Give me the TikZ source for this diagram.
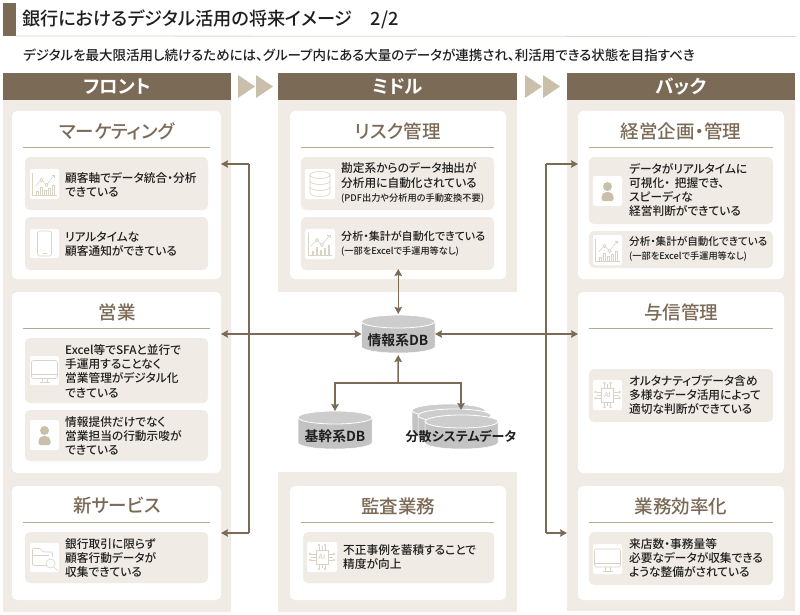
\documentclass[tikz,border=0pt]{standalone}
\usepackage{fontspec}
\setmainfont[RawFeature=+palt,BoldFont={Noto Sans CJK JP Bold}]{Noto Sans CJK JP Medium}
\usepackage{tikz}
\usetikzlibrary{arrows.meta,fit}
\definecolor{brownbar}{HTML}{7B6A56}
\definecolor{panelbg}{HTML}{F0ECE5}
\definecolor{tribeige}{HTML}{C9BFAB}
\definecolor{rulebeige}{HTML}{B5A995}
\definecolor{iconline}{HTML}{DAD3C5}
\definecolor{dbgray}{HTML}{C3C3C3}
\definecolor{dbtop}{HTML}{CDCDCD}
\definecolor{inktext}{HTML}{1F1F1F}
\tikzset{
  box/.style={inner sep=0pt,outer sep=0pt,minimum size=0pt},
  panel/.style={box,fill=panelbg},
  card/.style={box,fill=white,rounded corners=5pt},
  inner/.style={box,fill=panelbg,rounded corners=5pt},
  iconbox/.style={box,fill=white,rounded corners=2pt},
  headbar/.style={box,fill=brownbar},
  headtxt/.style={inner sep=0pt,text=white,font=\fontsize{18.5}{20}\selectfont\bfseries},
  cardtitle/.style={inner sep=0pt,text=brownbar,font=\fontsize{18.5}{20}\selectfont},
  cardrule/.style={rulebeige,line width=0.8pt},
  itemtxt/.style={anchor=west,align=left,inner sep=0pt,text=inktext,font=\fontsize{11.7}{14.3}\selectfont},
  dbtxt/.style={inner sep=0pt,text=inktext,font=\fontsize{13.8}{15}\selectfont\bfseries},
  link/.style={brownbar,line width=1.5pt,{Stealth[length=7pt,width=7.5pt,inset=1pt]}-{Stealth[length=7pt,width=7.5pt,inset=1pt]}},
  linkto/.style={brownbar,line width=1.5pt,-{Stealth[length=7pt,width=7.5pt,inset=1pt]}},
  ico/.style={iconline,line width=0.6pt}
}
\newcommand{\smalltxt}[1]{{\fontsize{9.2}{11}\selectfont #1}}
% two triangles between the column heads
\newcommand{\chevrons}[1]{%
  \fill[tribeige] (#1,75) -- (#1+17,86.5) -- (#1,98) -- cycle;
  \fill[tribeige] (#1+18,75) -- (#1+35,86.5) -- (#1+18,98) -- cycle;}
% cylinder, top left corner and size
\newcommand{\cyl}[4]{%
  \fill[dbgray,draw=white,line width=0.5pt] (#1,#2+6.5) -- (#1,#2+#4-6.5) arc (180:0:#3/2 and 6.5) -- (#1+#3,#2+6.5) -- cycle;
  \fill[dbtop,draw=white,line width=0.8pt] (#1+#3/2,#2+6.5) ellipse [x radius=#3/2, y radius=6.5];}
% icons, drawn around the centre of their white square
\newcommand{\iconchart}[1]{\begin{scope}[shift={(#1)},ico]
  \draw (-12,-11) -- (-12,11) -- (12,11);
  \foreach \bx/\bh in {-8/4,-4/8,0/5,4/7,8/10} \draw (\bx,11) -- (\bx,11-\bh) -- (\bx+1.5,11-\bh) -- (\bx+1.5,11);
  \draw (-9,2) -- (-3,-4) -- (2,1) -- (10,-9);
  \draw (7,-9) -- (10,-9) -- (10,-6);
  \foreach \cx/\cy in {-3/-4,2/1} \draw[fill=white] (\cx,\cy) circle (1.6);
  \end{scope}}
\newcommand{\iconphone}[1]{\begin{scope}[shift={(#1)},ico]
  \draw[rounded corners=2pt] (-7,-12.5) rectangle (7,12.5);
  \draw (-2,10) -- (2,10);
  \end{scope}}
\newcommand{\iconuser}[1]{\begin{scope}[shift={(#1)}]
  \fill[tribeige] (0,-4.5) circle (4.5);
  \fill[tribeige,rounded corners=2pt] (-6,10) -- (-6,4) -- (-3,1) -- (3,1) -- (6,4) -- (6,10) -- cycle;
  \end{scope}}
\newcommand{\iconscreen}[1]{\begin{scope}[shift={(#1)},ico]
  \draw[rounded corners=2pt] (-13,-10) rectangle (13,8);
  \draw (-13,4) -- (13,4);
  \draw (-2.5,8) -- (-2.5,12) (2.5,8) -- (2.5,12) (-5,12) -- (5,12);
  \end{scope}}
\newcommand{\icondisk}[1]{\begin{scope}[shift={(#1)},ico]
  \draw (0,-9) ellipse [x radius=10, y radius=3.5];
  \draw (-10,-9) -- (-10,9) arc (180:0:10 and 3.5) -- (10,-9);
  \draw (-10,-3) arc (180:0:10 and 3.5);
  \draw (-10,3) arc (180:0:10 and 3.5);
  \end{scope}}
\newcommand{\iconfolder}[1]{\begin{scope}[shift={(#1)},ico]
  \draw[rounded corners=1pt] (2,8) -- (-12,8) -- (-12,-9) -- (-4,-9) -- (-1,-5.5) -- (8,-5.5) -- (8,-1);
  \draw (-12,-2.5) -- (4,-2.5);
  \draw (6,6) circle (4.5);
  \draw (9.5,9.5) -- (13,13);
  \end{scope}}
\newcommand{\iconai}[1]{\begin{scope}[shift={(#1)},ico]
  \draw (-6,-7) rectangle (6,7);
  \node[inner sep=0pt,text=iconline,font=\fontsize{7}{8}\selectfont] at (0,0) {AI};
  \foreach \ta in {-3,0,3} {
    \draw (\ta,-7) -- (\ta,-11) (\ta,7) -- (\ta,11);
    \draw (-6,\ta) -- (-11,\ta) (6,\ta) -- (11,\ta);}
  \foreach \ta in {-3,3} {
    \draw (\ta,-12) circle (1) (\ta,12) circle (1) (-12,\ta) circle (1) (12,\ta) circle (1);}
  \end{scope}}
\begin{document}
\begin{tikzpicture}[x=1pt,y=-1pt]
        \useasboundingbox (0,0) rectangle (800,615);

        % Title
        \node[box,fill=brownbar,fit={(3,3)(16,36)}] (titlebar) {};
        \draw[tribeige!60,line width=0.8pt] (titlebar.south east) -- (797,36.5);
        \node[anchor=west,inner sep=0pt,text=inktext,font=\fontsize{18.2}{20}\selectfont] (titletxt) at (22,19) {銀行におけるデジタル活用の将来イメージ\hspace{1em}2/2};
        \node[anchor=west,inner sep=0pt,text=inktext,font=\fontsize{13.5}{16}\selectfont] (subtxt) at (23,55) {デジタルを最大限活用し続けるためには、グループ内にある大量のデータが連携され、利活用できる状態を目指すべき};

        % Column heads
        \node[headbar,fit={(3,73)(231,100)}] (fronthead) {};
        \node[headbar,fit={(278,73)(517,100)}] (midhead) {};
        \node[headbar,fit={(567,73)(795,100)}] (backhead) {};
        \node[headtxt] (fronttxt) at (fronthead) {フロント};
        \node[headtxt] (midtxt) at (midhead) {ミドル};
        \node[headtxt] (backtxt) at (backhead) {バック};
        \chevrons{238}
        \chevrons{525}

        % Column backgrounds
        \node[panel,fit={(3,100)(231,612)}] (frontpanel) {};
        \node[panel,fit={(278,100)(517,292)}] (midpanel) {};
        \node[panel,fit={(278,472)(517,612)}] (auditpanel) {};
        \node[panel,fit={(567,100)(795,611)}] (backpanel) {};

        % Front column
        \node[card,fit={(12,111)(221,279)}] (mktcard) {};
        \node[cardtitle] (mkttitle) at (117,131) {マーケティング};
        \draw[cardrule] (23,147) -- (210,147);
        \node[inner,fit={(25,157)(208,210)}] (mkta) {};
        \node[iconbox,fit={(30,169)(59,199)}] (mktaicon) {};
        \iconchart{mktaicon}
        \node[itemtxt] (mktatxt) at (65,184.5) {顧客軸でデータ統合・分析\\できている};
        \node[inner,fit={(25,217)(208,270)}] (mktb) {};
        \node[iconbox,fit={(30,229)(59,258)}] (mktbicon) {};
        \iconphone{mktbicon}
        \node[itemtxt] (mktbtxt) at (65,244) {リアルタイムな\\顧客通知ができている};

        \node[card,fit={(12,292)(221,473)}] (salescard) {};
        \node[cardtitle] (salestitle) at (117,312) {営業};
        \draw[cardrule] (23,328) -- (210,328);
        \node[inner,fit={(25,338)(208,403)}] (salesa) {};
        \node[iconbox,fit={(30,356)(59,385)}] (salesaicon) {};
        \iconscreen{salesaicon}
        \node[itemtxt] (salesatxt) at (65,371) {Excel等でSFAと並行で\\手運用することなく\\営業管理がデジタル化\\できている};
        \node[inner,fit={(25,410)(208,461)}] (salesb) {};
        \node[iconbox,fit={(30,420)(59,450)}] (salesbicon) {};
        \iconuser{salesbicon}
        \node[itemtxt] (salesbtxt) at (65,436) {情報提供だけでなく\\営業担当の行動示唆が\\できている};

        \node[card,fit={(12,486)(221,600)}] (newcard) {};
        \node[cardtitle] (newtitle) at (117,506) {新サービス};
        \draw[cardrule] (23,522) -- (210,522);
        \node[inner,fit={(25,532)(208,583)}] (newa) {};
        \node[iconbox,fit={(30,543)(59,572)}] (newaicon) {};
        \iconfolder{newaicon}
        \node[itemtxt] (newatxt) at (65,558) {銀行取引に限らず\\顧客行動データが\\収集できている};

        % Middle column
        \node[card,fit={(290,111)(506,279)}] (riskcard) {};
        \node[cardtitle] (risktitle) at (398,131) {リスク管理};
        \draw[cardrule] (301,147) -- (494,147);
        \node[inner,fit={(301,157)(494,210)}] (riska) {};
        \node[iconbox,fit={(305,169)(335,199)}] (riskaicon) {};
        \icondisk{riskaicon}
        \node[itemtxt] (riskatxt) at (341,183) {勘定系からのデータ抽出が\\分析用に自動化されている\\\smalltxt{(PDF出力や分析用の手動変換不要)}};
        \node[inner,fit={(301,217)(494,270)}] (riskb) {};
        \node[iconbox,fit={(305,229)(335,259)}] (riskbicon) {};
        \iconchart{riskbicon}
        \node[itemtxt] (riskbtxt) at (341,244) {{\fontsize{11.05}{14.3}\selectfont 分析・集計が自動化できている}\\\smalltxt{(一部をExcelで手運用等なし)}};

        \node[card,fit={(290,486)(506,600)}] (auditcard) {};
        \node[cardtitle] (audittitle) at (398,506) {監査業務};
        \draw[cardrule] (301,522) -- (494,522);
        \node[inner,fit={(303,532)(494,583)}] (audita) {};
        \node[iconbox,fit={(307,542)(337,572)}] (auditaicon) {};
        \iconai{auditaicon}
        \node[itemtxt] (auditatxt) at (343,557) {不正事例を蓄積することで\\精度が向上};

        % Back column
        \node[card,fit={(578,111)(784,279)}] (plancard) {};
        \node[cardtitle] (plantitle) at (681,131) {経営企画・管理};
        \draw[cardrule] (589,147) -- (773,147);
        \node[inner,fit={(589,157)(773,224)}] (plana) {};
        \node[iconbox,fit={(593,176)(622,206)}] (planaicon) {};
        \iconuser{planaicon}
        \node[itemtxt] (planatxt) at (629,190) {データがリアルタイムに\\可視化・\hspace{0.4em}把握でき、\\スピーディな\\経営判断ができている};
        \node[inner,fit={(589,231)(773,268)}] (planb) {};
        \node[iconbox,fit={(593,235)(622,265)}] (planbicon) {};
        \iconchart{planbicon}
        \node[itemtxt] (planbtxt) at (629,249) {{\fontsize{10.6}{14.3}\selectfont 分析・集計が自動化できている}\\\smalltxt{(一部をExcelで手運用等なし)}};

        \node[card,fit={(578,292)(784,473)}] (creditcard) {};
        \node[cardtitle] (credittitle) at (681,312) {与信管理};
        \draw[cardrule] (589,328) -- (773,328);
        \node[inner,fit={(589,369)(773,422)}] (credita) {};
        \node[iconbox,fit={(593,380)(622,410)}] (creditaicon) {};
        \iconai{creditaicon}
        \node[itemtxt] (creditatxt) at (629,395) {オルタナティブデータ含め\\多様なデータ活用によって\\適切な判断ができている};

        \node[card,fit={(578,486)(784,600)}] (effcard) {};
        \node[cardtitle] (efftitle) at (681,506) {業務効率化};
        \draw[cardrule] (589,522) -- (773,522);
        \node[inner,fit={(589,532)(773,585)}] (effa) {};
        \node[iconbox,fit={(593,544)(622,574)}] (effaicon) {};
        \iconscreen{effaicon}
        \node[itemtxt] (effatxt) at (629,558) {来店数・事務量等\\必要なデータが収集できる\\ような整備がされている};

        % Databases
        \cyl{361.5}{315}{73.5}{38}
        \node[box,fit={(361.5,315)(435,353)}] (infoDB) {};
        \node[dbtxt] (infotxt) at (398,340) {情報系DB};
        \cyl{298}{411}{74}{38}
        \node[box,fit={(298,411)(372,449)}] (coreDB) {};
        \node[dbtxt] (coretxt) at (335,436) {基幹系DB};
        \cyl{412}{404}{73}{34}
        \cyl{418}{409}{73}{34}
        \cyl{425}{415}{73}{34}
        \node[dbtxt,font=\fontsize{13}{15}\selectfont\bfseries] (disttxt) at (461,436) {分散システムデータ};
        \coordinate (distin) at (461,410);

        % Connectors
        \coordinate (frontbusT) at (249,164);
        \coordinate (frontbusB) at (249,533);
        \coordinate (backbusT) at (546,164);
        \coordinate (backbusB) at (546,533);
        \coordinate (joint) at (398,383);
        \draw[linkto] (frontbusB) -- (frontbusB -| newcard.east);
        \draw[linkto] (frontbusT) -- (frontbusT -| mktcard.east);
        \draw[brownbar,line width=1.5pt] (frontbusT) -- (frontbusB);
        \draw[linkto] (backbusT) -- (backbusT -| plancard.west);
        \draw[linkto] (backbusB) -- (backbusB -| backpanel.west);
        \draw[brownbar,line width=1.5pt] (backbusT) -- (backbusB);
        \draw[link] (salescard.east |- infoDB.west) -- (infoDB.west);
        \draw[link] (infoDB.east) -- (creditcard.west |- infoDB.east);
        \draw[link,shorten <=-1pt,shorten >=1pt] (riskb.south -| infoDB.north) -- (infoDB.north);
        \draw[linkto,shorten >=2pt] (joint) -- (infoDB.south);
        \draw[linkto] (joint) -| (coreDB.north);
        \draw[linkto] (joint) -| (distin);
\end{tikzpicture}
\end{document}
